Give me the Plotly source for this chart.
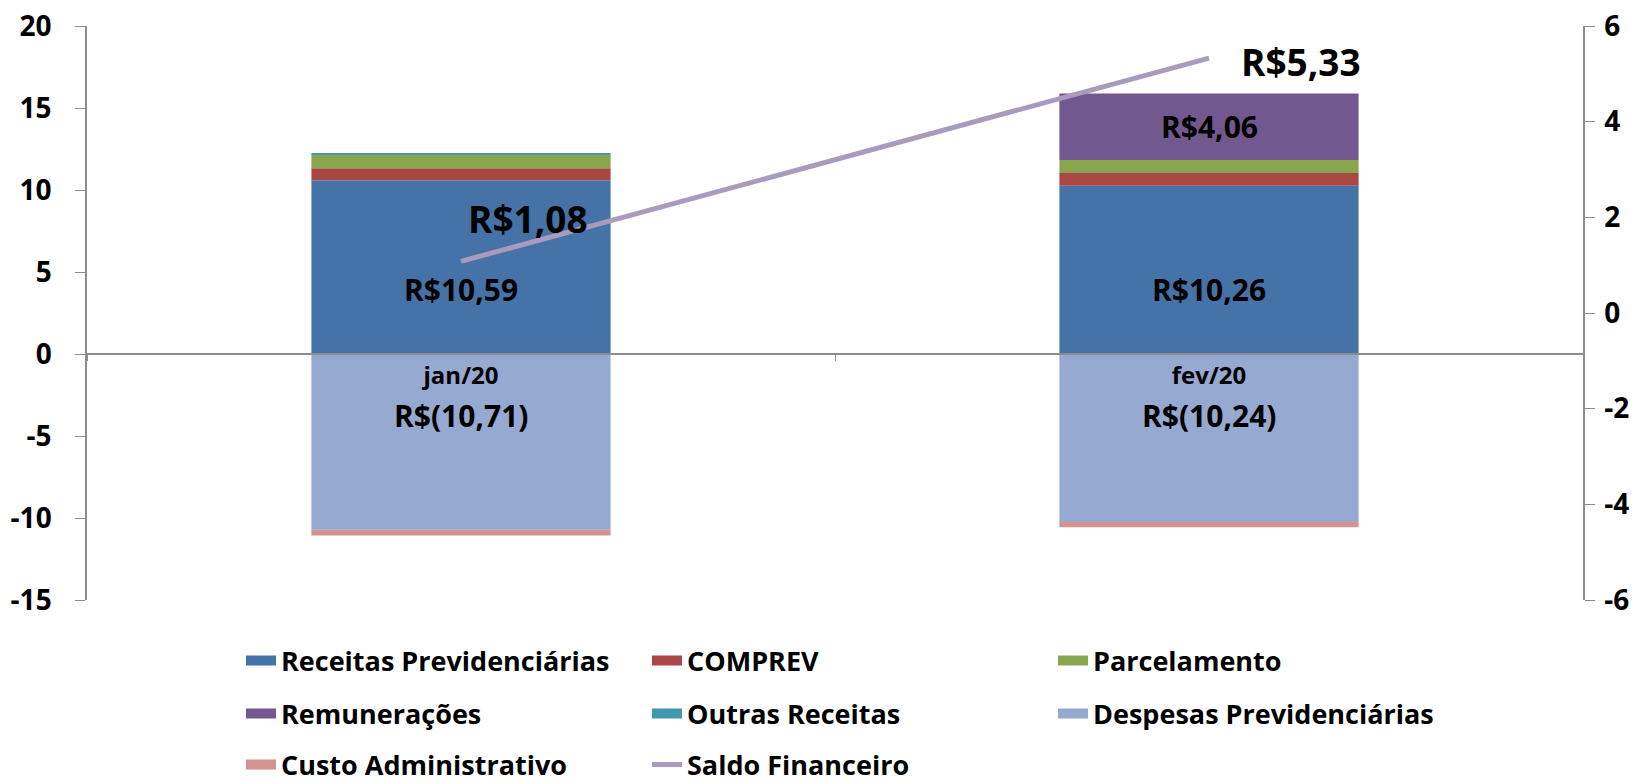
import plotly.graph_objects as go

meses = ["jan/20", "fev/20"]
receitas_prev = [10.59, 10.26]
comprev = [0.73, 0.77]
parcelamento = [0.85, 0.80]
remuneracoes = [0.0, 4.06]
outras_receitas = [0.05, 0.0]
despesas_prev = [-10.71, -10.24]
custo_adm = [-0.36, -0.32]
saldo = [1.08, 5.33]

y1_ticks = [-15, -10, -5, 0, 5, 10, 15, 20]
y2_ticks = [-6, -4, -2, 0, 2, 4, 6]

FONT = "Open Sans"
W, H = 1644, 783
ML, MR, MT, MB = 87, 61, 26, 183

def brl(v):
    s = f"{abs(v):.2f}".replace(".", ",")
    return f"R$({s})" if v < 0 else f"R${s}"

def bold(size):
    return dict(family=FONT, size=size, color="black", weight="bold")

fig = go.Figure()
bar_series = [
    ("Receitas Previdenciárias", receitas_prev, "#4572A7", "legend"),
    ("COMPREV", comprev, "#AA4643", "legend"),
    ("Parcelamento", parcelamento, "#89A54E", "legend"),
    ("Remunerações", remuneracoes, "#71588F", "legend2"),
    ("Outras Receitas", outras_receitas, "#4198AF", "legend2"),
    ("Despesas Previdenciárias", despesas_prev, "#95A9D1", "legend2"),
    ("Custo Administrativo", custo_adm, "#D49391", "legend3"),
]
for name, vals, col, lg in bar_series:
    fig.add_trace(go.Bar(x=meses, y=vals, name=name, marker_color=col,
                         marker_line_width=0, showlegend=False))

fig.add_trace(go.Scatter(x=meses, y=saldo, name="Saldo Financeiro", mode="lines",
                         line=dict(color="#A99BBD", width=5), yaxis="y2",
                         showlegend=False))

# legend entries (rectangular swatches like the original)
for name, vals, col, lg in bar_series:
    fig.add_trace(go.Scatter(x=[None], y=[None], name=name, mode="lines",
                             line=dict(color=col, width=17), legend=lg))
fig.add_trace(go.Scatter(x=[None], y=[None], name="Saldo Financeiro", mode="lines",
                         line=dict(color="#A99BBD", width=5), legend="legend3"))

# data labels
ann = []
lab_y = [3.96, 3.96]
for i, m in enumerate(meses):
    ann.append(dict(x=m, y=lab_y[i], text=brl(receitas_prev[i]), showarrow=False,
                    font=bold(30)))
    ann.append(dict(x=m, y=-3.77, text=brl(despesas_prev[i]), showarrow=False,
                    font=bold(30)))
ann.append(dict(x=meses[1], y=receitas_prev[1] + comprev[1] + parcelamento[1] + remuneracoes[1] / 2,
                text=brl(remuneracoes[1]), showarrow=False, font=bold(30)))
shifts = [(67, 43), (92, -3)]
for i, m in enumerate(meses):
    ann.append(dict(x=m, y=saldo[i], yref="y2", text=brl(saldo[i]), showarrow=False,
                    xshift=shifts[i][0], yshift=shifts[i][1], font=bold(37)))

zero_pos = (0 - (-15)) / 35
PH = H - MT - MB
PW = W - ML - MR
def legy(px):
    return (H - MB - px) / PH
leg_x = 283 - 42
common = dict(orientation="h", x=(leg_x - ML) / PW, xanchor="left", yanchor="middle",
              entrywidth=361, entrywidthmode="pixels", font=bold(27),
              bgcolor="rgba(0,0,0,0)", traceorder="normal")

axcol = "#8C8C8C"
fig.update_layout(
    width=W, height=H,
    margin=dict(l=ML, r=MR, t=MT, b=MB, autoexpand=False),
    paper_bgcolor="white", plot_bgcolor="white",
    barmode="relative", bargap=0.6,
    font=dict(family=FONT, size=24, color="black"),
    xaxis=dict(type="category", anchor="free", position=zero_pos,
               showline=True, linecolor=axcol, linewidth=1.5,
               ticks="outside", tickson="boundaries", ticklen=6, tickcolor=axcol,
               tickfont=bold(24), showgrid=False, zeroline=False),
    yaxis=dict(range=[-15, 20], tickvals=y1_ticks, ticktext=[str(v) for v in y1_ticks],
               showgrid=False, zeroline=False, ticklabeloverflow="allow",
               showline=True, linecolor=axcol, linewidth=1.5,
               ticks="outside", ticklen=10, tickcolor=axcol, ticklabelstandoff=18,
               tickfont=bold(28)),
    yaxis2=dict(range=[-6, 6], tickvals=y2_ticks, ticktext=[str(v) for v in y2_ticks],
                overlaying="y", side="right", ticklabeloverflow="allow",
                showgrid=False, zeroline=False,
                showline=True, linecolor=axcol, linewidth=1.5,
                ticks="outside", ticklen=10, tickcolor=axcol, ticklabelstandoff=4,
                tickfont=bold(28)),
    legend=dict(y=legy(661), **common),
    legend2=dict(y=legy(714), **common),
    legend3=dict(y=legy(765), **common),
    annotations=ann,
)

fig.write_html("out.html", config={"displayModeBar": False},
               post_script="document.body.style.margin='0';document.body.style.overflow='hidden';")
